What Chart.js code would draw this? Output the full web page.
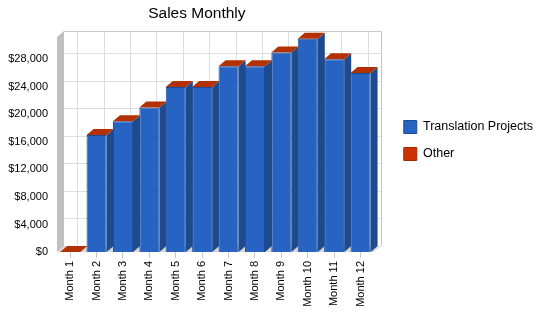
<!DOCTYPE html>
<html>
<head>
<meta charset="utf-8">
<title>Sales Monthly</title>
<script src="https://cdn.jsdelivr.net/npm/chart.js@4.4.1/dist/chart.umd.min.js"></script>
<style>
  html, body { margin: 0; padding: 0; background: #fff; }
  canvas { display: block; }
</style>
</head>
<body>
<canvas id="salesChart" width="550" height="318"></canvas>
<script>
// Data
const months = ['Month 1', 'Month 2', 'Month 3', 'Month 4', 'Month 5', 'Month 6',
                'Month 7', 'Month 8', 'Month 9', 'Month 10', 'Month 11', 'Month 12'];
const translationProjects = [0, 17000, 19000, 21000, 24000, 24000, 27000, 27000, 29000, 31000, 28000, 26000];
const other = [0, 0, 0, 0, 0, 0, 0, 0, 0, 0, 0, 0];
const yTicks = [0, 4000, 8000, 12000, 16000, 20000, 24000, 28000];
const chartTitle = 'Sales Monthly';

// 3D look
const DEPTH_X = 7;
const DEPTH_Y = 6;

Chart.defaults.font.family = '"Liberation Sans", Arial, sans-serif';
Chart.defaults.font.size = 11;
Chart.defaults.color = '#000';

function poly(ctx, pts, color) {
    ctx.beginPath();
    ctx.moveTo(pts[0][0], pts[0][1]);
    for (let i = 1; i < pts.length; i++) ctx.lineTo(pts[i][0], pts[i][1]);
    ctx.closePath();
    ctx.fillStyle = color;
    ctx.fill();
}

function line(ctx, x1, y1, x2, y2) {
    ctx.beginPath();
    ctx.moveTo(x1, y1);
    ctx.lineTo(x2, y2);
    ctx.stroke();
}

// walls, floor, sides and tops of the bars
const fake3d = {
    id: 'fake3d',
    afterLayout(chart) {
        // legend sits a bit higher than chart.js centres it
        chart.legend.top -= 4;
        chart.legend.bottom -= 4;
    },
    beforeDatasetsDraw(chart) {
        const ctx = chart.ctx;
        const a = chart.chartArea;
        const xs = chart.scales.x, ys = chart.scales.y;
        const dx = DEPTH_X, dy = DEPTH_Y;
        ctx.save();

        // grid on the back wall
        ctx.lineWidth = 1;
        ctx.strokeStyle = '#dddddd';
        yTicks.forEach(v => {
            const py = Math.round(ys.getPixelForValue(v) - dy) + 0.5;
            line(ctx, a.left + dx, py, a.right + dx, py);
        });
        months.forEach((m, i) => {
            const px = Math.round(xs.getPixelForValue(i) + dx) + 0.5;
            line(ctx, px, a.top - dy, px, a.bottom - dy);
        });
        ctx.strokeStyle = '#c8c8c8';
        const topY = Math.round(a.top - dy) + 0.5;
        const rightX = Math.round(a.right + dx) + 0.5;
        line(ctx, a.left + dx, topY, rightX, topY);
        line(ctx, rightX, topY, rightX, a.bottom - dy);

        // left wall
        poly(ctx, [[a.left, a.top], [a.left + dx, a.top - dy], [a.left + dx, a.bottom - dy], [a.left, a.bottom]], '#c0c0c0');
        // floor
        poly(ctx, [[a.left, a.bottom], [a.left + dx, a.bottom - dy], [a.right + dx, a.bottom - dy], [a.right, a.bottom]], '#d6d6d6');

        const metas = chart.getSortedVisibleDatasetMetas();
        const topMeta = metas[metas.length - 1];
        for (let i = 0; i < months.length; i++) {
            metas.forEach(meta => {
                const bar = meta.data[i];
                const ds = chart.data.datasets[meta.index];
                const r = bar.x + bar.width / 2;
                if (bar.base - bar.y > 0) {
                    poly(ctx, [[r, bar.y], [r + dx, bar.y - dy], [r + dx, bar.base - dy], [r, bar.base]], ds.sideColor);
                }
            });
            const bar = topMeta.data[i];
            const ds = chart.data.datasets[topMeta.index];
            const l = bar.x - bar.width / 2, r = bar.x + bar.width / 2;
            poly(ctx, [[l, bar.y], [l + dx, bar.y - dy], [r + dx, bar.y - dy], [r, bar.y]], ds.topColor);
        }
        ctx.restore();
    }
};

// title centred over the plot part of the picture
const titlePlugin = {
    id: 'plainTitle',
    afterDraw(chart) {
        const ctx = chart.ctx;
        ctx.save();
        ctx.font = '15.5px "Liberation Sans", Arial, sans-serif';
        ctx.fillStyle = '#000';
        ctx.textAlign = 'center';
        ctx.textBaseline = 'alphabetic';
        ctx.fillText(chartTitle, chart.legend.left / 2 + 2, 18);
        ctx.restore();
    }
};

const ctx = document.getElementById('salesChart').getContext('2d');
const salesChart = new Chart(ctx, {
    type: 'bar',
    data: {
        labels: months,
        datasets: [{
            label: 'Translation Projects',
            data: translationProjects,
            backgroundColor: '#2663c3',
            borderColor: '#1b4c98',
            borderWidth: 1,
            sideColor: '#1f4b8e',
            topColor: '#3a76d0',
            categoryPercentage: 1,
            barPercentage: 0.76
        }, {
            label: 'Other',
            data: other,
            backgroundColor: '#cc3300',
            borderColor: '#a32900',
            borderWidth: 1,
            sideColor: '#8f2600',
            topColor: '#b33100',
            categoryPercentage: 1,
            barPercentage: 0.76
        }]
    },
    options: {
        responsive: false,
        animation: false,
        devicePixelRatio: 1,
        layout: { padding: { top: 37, right: 7 } },
        plugins: {
            title: { display: false },
            tooltip: { enabled: false },
            legend: {
                position: 'right',
                fullSize: false,
                maxWidth: 220,
                labels: {
                    boxWidth: 13,
                    boxHeight: 13,
                    padding: 14,
                    font: { size: 12.5 },
                    color: '#000'
                }
            }
        },
        scales: {
            x: {
                stacked: true,
                afterFit: s => { s.height = 66; },
                grid: { display: true, drawOnChartArea: false, offset: false, tickLength: 6, color: '#c8c8c8' },
                border: { display: false },
                ticks: { autoSkip: false, maxRotation: 90, minRotation: 90, padding: 3 }
            },
            y: {
                stacked: true,
                min: 0,
                max: 31250,
                afterBuildTicks: s => { s.ticks = yTicks.map(v => ({ value: v })); },
                afterFit: s => { s.width = 57; },
                grid: { display: false, drawTicks: true, tickLength: 5 },
                border: { display: false },
                ticks: { padding: 4, callback: v => '$' + v.toLocaleString('en-US') }
            },
            yRight: {
                type: 'linear',
                position: 'right',
                afterFit: s => { s.width = 16; },
                grid: { display: false },
                border: { display: false },
                ticks: { display: false }
            }
        }
    },
    plugins: [fake3d, titlePlugin]
});
</script>
</body>
</html>
